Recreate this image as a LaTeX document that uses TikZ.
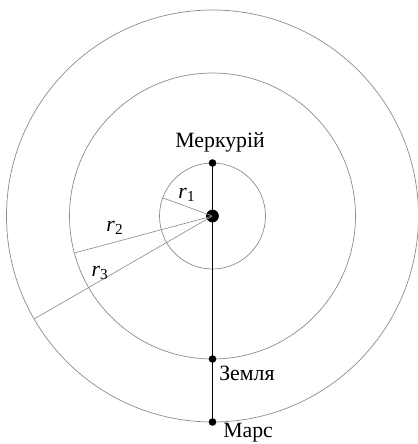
\documentclass[tikz,border=0pt]{standalone}
\usepackage{fontspec}
\setmainfont{Liberation Serif}
\usetikzlibrary{positioning}
\definecolor{orbGray}{HTML}{8C8C8C}
\tikzset{
  orb/.style={draw=orbGray, line width=0.5pt},
  rad/.style={draw=orbGray, line width=0.45pt},
  planet/.style={circle, fill=black, minimum size=1.9mm, inner sep=0pt},
  sun/.style={circle, fill=black, minimum size=3.2mm, inner sep=0pt},
  lab/.style={font=\fontsize{15.5}{18}\selectfont, inner sep=1pt},
}
\begin{document}
\begin{tikzpicture}
\useasboundingbox (-5.3125,-5.7) rectangle (5.1375,5.4);
% orbits
\foreach \rr in {1.325,3.575,5.15}{
  \draw[orb] (0,0) circle (\rr);
}
\node[sun] (sun) at (0,0) {};
\coordinate (r1end) at (160:1.325);
\coordinate (r2end) at (195:3.575);
\coordinate (r3end) at (210:5.15);
\draw[rad] (sun.center) -- (r1end);
\draw[rad] (sun.center) -- (r2end);
\draw[rad] (sun.center) -- (r3end);
\node[lab] (r1lab) at (-0.64,0.53) {\textit{r}\textsubscript{1}};
\node[lab] (r2lab) at (-2.44,-0.3) {\textit{r}\textsubscript{2}};
\node[lab] (r3lab) at (-2.81,-1.43) {\textit{r}\textsubscript{3}};
% planets
\node[planet] (merc) at (90:1.325) {};
\node[planet] (earth) at (-90:3.575) {};
\node[planet] (mars) at (-90:5.15) {};
\draw[line width=1.3pt] (merc.center) -- (mars.center);
\node[lab] (merclab) at (0.19,1.83) {Меркурій};
\node[lab] (earthlab) at (0.86,-3.93) {Земля};
\node[lab] (marslab) at (0.89,-5.42) {Марс};
\end{tikzpicture}
\end{document}
